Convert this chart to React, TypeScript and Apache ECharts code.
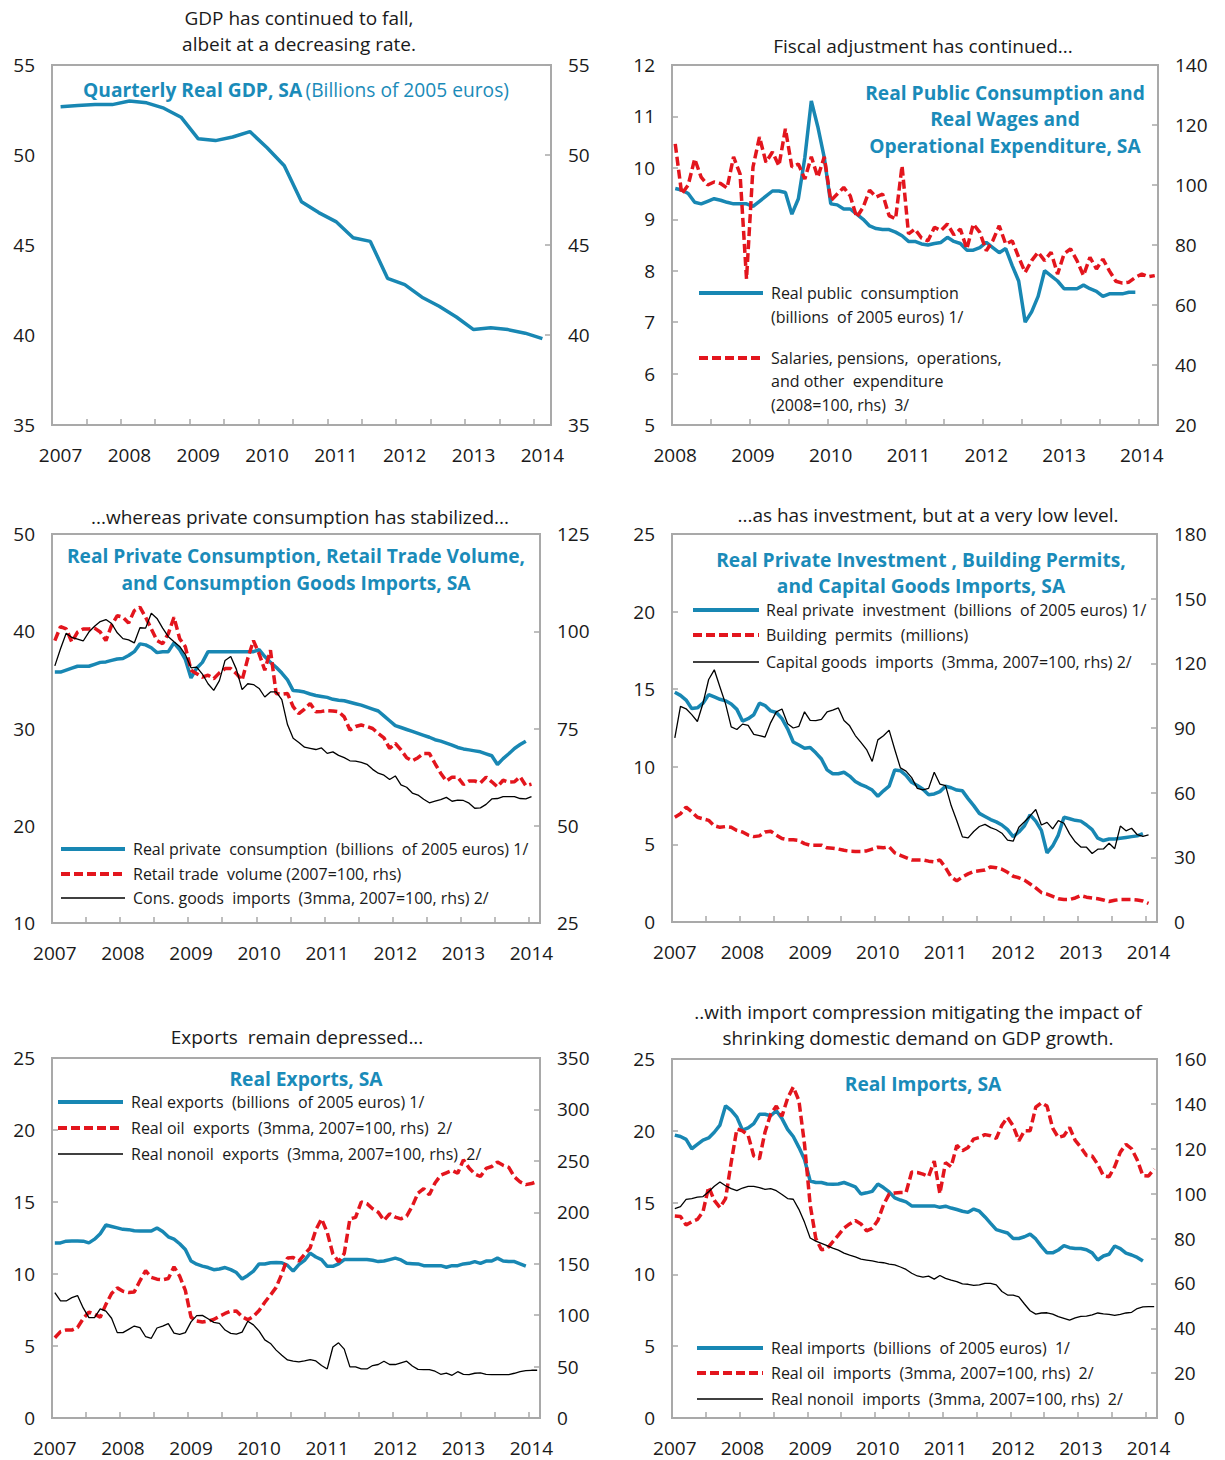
import React, { useEffect, useRef } from "react";
import * as echarts from "echarts";

const FONT = "'Open Sans', 'Noto Sans', sans-serif";
const TEAL = "#1a8bb9";
const BLUE = "#1887b3";
const RED = "#e3151d";
const GRAY = "#a9a9a9";
const TXT = "#1a1a1a";

// ---------- DATA ----------
// Panel 1: quarterly real GDP, 2007Q1 - 2014Q1
const gdpStart = 2007;
const gdp = [52.68, 52.75, 52.8, 52.8, 53.0, 52.9, 52.6, 52.1, 50.9, 50.8, 51.0, 51.3, 50.4, 49.4, 47.4,
  46.8, 46.3, 45.4, 45.2, 43.15, 42.8, 42.1, 41.6, 41.0, 40.3, 40.4, 40.3, 40.1, 39.8];

// Panel 2: monthly from Jan 2008
const fiscalStart = 2008;
const pubCons = [9.6, 9.57, 9.5, 9.33, 9.3, 9.35, 9.4, 9.37, 9.33, 9.3, 9.3, 9.3,
  9.25, 9.35, 9.45, 9.55, 9.55, 9.52, 9.1, 9.4, 10.2, 11.3, 10.8, 10.2,
  9.3, 9.28, 9.2, 9.2, 9.1, 9.0, 8.87, 8.82, 8.8, 8.8, 8.75, 8.68,
  8.57, 8.57, 8.52, 8.5, 8.53, 8.55, 8.65, 8.57, 8.53, 8.4, 8.4, 8.45,
  8.55, 8.45, 8.35, 8.43, 8.1, 7.8, 7.0, 7.2, 7.5, 8.0, 7.9, 7.8,
  7.65, 7.65, 7.65, 7.72, 7.65, 7.6, 7.5, 7.55, 7.55, 7.55, 7.58, 7.58];
const fiscalExp = [113.7, 97, 100, 108.7, 102.6, 100, 101, 100.5, 99, 109.4, 103.7, 68.7,
  106, 116, 107.6, 111, 106.4, 118.7, 106, 107, 102, 109.4, 102.6, 109.4,
  94.8, 97, 99.2, 96.4, 89.2, 92.6, 98.3, 96, 97, 89.8, 88.7, 106.4,
  83.7, 85.3, 82.3, 81.4, 85.9, 84.8, 87, 83.4, 85.3, 78.7, 87, 84.2,
  78.1, 81.4, 86.4, 80.3, 81.4, 75.9, 70.9, 74.8, 77.6, 74.8, 77.6, 70.3,
  77, 78.7, 74.8, 69.8, 75.9, 72, 75.3, 71.4, 67.9, 67.3, 67.6, 69.2,
  70.3, 69.4, 69.8];

// Panel 3: monthly from Jan 2007
const monthlyStart = 2007;
const privCons = [35.8, 35.8, 36.0, 36.2, 36.4, 36.4, 36.4, 36.6, 36.8, 36.85, 37.0, 37.15,
  37.2, 37.5, 37.9, 38.7, 38.6, 38.3, 37.8, 37.9, 37.9, 38.8, 38.1, 37.1,
  35.2, 36.2, 36.8, 37.9, 37.9, 37.9, 37.9, 37.9, 37.9, 37.9, 37.9, 37.9,
  38.1, 37.4, 36.8, 36.3, 35.7, 35.0, 33.9, 33.85, 33.75, 33.55, 33.4, 33.3,
  33.2, 33.0, 32.9, 32.85, 32.7, 32.55, 32.4, 32.2, 32.0, 31.8, 31.3, 30.8,
  30.3, 30.1, 29.9, 29.7, 29.5, 29.3, 29.1, 28.85, 28.7, 28.5, 28.3, 28.05,
  27.9, 27.8, 27.7, 27.6, 27.4, 27.2, 26.3, 26.9, 27.4, 27.95, 28.35, 28.7];
const retailVol = [97.6, 101.2, 100.6, 97.2, 99.8, 100.6, 100.6, 100.8, 99.8, 97.6, 101.5, 104,
  103.6, 102.1, 105.3, 106.2, 103.6, 100.6, 97.6, 96.8, 99.4, 103.6, 98.1, 96,
  90, 89.1, 88.2, 88.7, 87.8, 89.3, 90.4, 90.4, 89.1, 87.4, 93, 97.6,
  94.2, 90, 95.1, 84, 83.8, 84, 80.6, 78.8, 80, 81.4, 79.3, 79.4,
  79.6, 79.5, 79.3, 78, 74.6, 75.5, 75.9, 75.5, 75, 73.7, 72.6, 69.9,
  71.2, 69.5, 67.5, 66.7, 67.5, 68.6, 68.6, 66, 63.5, 61.5, 62.5, 62.5,
  60.6, 61.5, 61.5, 61, 62.5, 61.3, 60, 61.7, 61.2, 61.3, 62.6, 60.3, 60.7];
const consImports = [91.1, 95.5, 99.5, 98.4, 98, 97.5, 99.8, 101.3, 102.5, 103, 102, 99.6,
  98.1, 97.8, 97, 100.9, 100.8, 104.6, 103.3, 100.8, 98.6, 97.3, 96.1, 94,
  90.6, 90.8, 89, 86.5, 84.8, 87.3, 92.5, 93.5, 90.2, 85, 86.5, 86.3,
  85.3, 83.1, 84.4, 84.4, 82.4, 76, 72.5, 71.4, 70.2, 69.9, 69.6, 70,
  68.6, 69, 68.1, 67.5, 66.7, 66.6, 66.3, 65.8, 64.5, 63.5, 63, 61.9,
  62.8, 60.5, 59.9, 58.4, 57.9, 56.8, 55.9, 56.3, 56.7, 57.3, 56.3, 56.6,
  56.5, 55.8, 54.5, 54.6, 55.5, 56.9, 57, 57.5, 57.5, 57.5, 57, 56.9, 57.5];

// Panel 4
const privInv = [14.8, 14.6, 14.3, 13.75, 13.8, 14.1, 14.65, 14.5, 14.35, 14.25, 14.05, 13.7,
  12.95, 13.1, 13.35, 14.1, 13.95, 13.6, 13.5, 13.1, 12.45, 11.6, 11.4, 11.2,
  11.25, 10.9, 10.5, 9.8, 9.55, 9.55, 9.65, 9.4, 9.05, 8.85, 8.7, 8.5,
  8.1, 8.45, 8.75, 9.8, 9.75, 9.45, 9.0, 8.8, 8.55, 8.2, 8.25, 8.4,
  8.75, 8.65, 8.5, 8.45, 7.95, 7.5, 7.0, 6.8, 6.6, 6.45, 6.25, 5.95,
  5.5, 5.8, 6.2, 6.9, 6.5, 5.9, 4.45, 4.9, 5.6, 6.75, 6.65, 6.55,
  6.5, 6.25, 5.95, 5.4, 5.25, 5.35, 5.35, 5.4, 5.45, 5.5, 5.55, 5.7];
const buildPermits = [6.75, 6.97, 7.4, 7.1, 6.75, 6.65, 6.55, 6.2, 6.1, 6.15, 6.1, 5.9,
  5.8, 5.6, 5.5, 5.55, 5.8, 5.85, 5.6, 5.38, 5.3, 5.3, 5.25, 5.05,
  4.95, 4.95, 4.95, 4.78, 4.75, 4.7, 4.62, 4.56, 4.55, 4.55, 4.58, 4.7,
  4.82, 4.78, 4.85, 4.45, 4.3, 4.15, 4.0, 4.0, 4.0, 3.92, 3.87, 4.0,
  3.5, 2.9, 2.65, 2.9, 3.1, 3.25, 3.3, 3.35, 3.55, 3.5, 3.4, 3.2,
  2.95, 2.85, 2.7, 2.45, 2.2, 1.9, 1.8, 1.65, 1.5, 1.45, 1.45, 1.55,
  1.7, 1.6, 1.55, 1.5, 1.42, 1.32, 1.4, 1.45, 1.45, 1.45, 1.42, 1.35, 1.2];
const capImports = [85.4, 100, 98.9, 96.2, 93, 101.5, 112.5, 117, 109, 101.2, 90.5, 89.3,
  91.8, 91.2, 87, 86.5, 85.8, 92.5, 97.5, 98.8, 92, 90, 90.8, 97.5,
  93.5, 93.4, 94, 97.5, 98.3, 99.3, 93.5, 91, 86.5, 83.3, 80, 74.5,
  84.5, 86.4, 89, 80, 71.5, 70, 67, 62, 61.3, 62, 69.5, 64,
  63.3, 54, 47, 39.5, 39, 42, 44.3, 45.3, 43.8, 42.8, 41.2, 38,
  37.5, 44, 46.5, 49.2, 52.2, 45, 46.2, 43.2, 47, 45.8, 40.9, 37.2,
  34.8, 34.7, 31.8, 33.8, 33.9, 36.5, 34, 44.5, 42.3, 43.5, 40.5, 39.7, 40.4];

// Panel 5
const realExports = [12.16, 12.16, 12.28, 12.3, 12.3, 12.28, 12.16, 12.42, 12.8, 13.4, 13.3, 13.2,
  13.1, 13.08, 13.0, 12.98, 12.98, 12.98, 13.2, 12.95, 12.58, 12.42, 12.1, 11.7,
  10.9, 10.68, 10.55, 10.45, 10.3, 10.35, 10.45, 10.3, 10.1, 9.65, 9.9, 10.2,
  10.7, 10.7, 10.78, 10.8, 10.78, 10.6, 10.2, 10.65, 10.95, 11.45, 11.18, 11.0,
  10.53, 10.53, 10.7, 11.0, 11.0, 11.0, 11.0, 11.0, 10.95, 10.86, 10.9, 11.0,
  11.1, 10.98, 10.74, 10.72, 10.7, 10.58, 10.58, 10.58, 10.58, 10.47, 10.58, 10.58,
  10.7, 10.74, 10.86, 10.74, 10.9, 10.9, 11.1, 10.9, 10.86, 10.86, 10.7, 10.55];
const oilExports = [78, 84, 85.5, 85.5, 88, 96.5, 103, 101, 98, 110.5, 121, 126.5,
  123.3, 122, 122.6, 133.4, 143.2, 136.8, 135, 134.4, 135.6, 147, 138, 124,
  98, 94.3, 93.3, 94.2, 95.8, 99, 101.6, 103.8, 104, 98.5, 95.5, 98.8,
  104.5, 112.5, 119.5, 127, 140, 155.5, 156, 152.5, 159, 165.5, 183, 193.6,
  180.5, 159.5, 152, 160, 193.6, 195, 210, 208.4, 203.4, 200, 192, 198.5,
  195.3, 193.6, 196.3, 206, 218.7, 223, 217, 228.5, 236, 238.4, 240.6, 238,
  251, 243, 237.3, 234.8, 242.6, 244.5, 248.8, 245.7, 243.6, 234.4, 229.5, 226.9, 227.9, 230];
const nonoilExports = [122, 113.8, 113.8, 117, 119, 107, 97.6, 97.6, 106, 104, 97, 83,
  83, 86.2, 89.4, 87.8, 79, 77.5, 87.5, 89.4, 91.8, 82.5, 81.3, 83,
  93.5, 99.5, 99.8, 96.5, 93, 92, 85.5, 82.3, 81.5, 83.5, 94, 90.5,
  84.5, 76, 72.5, 66, 61, 56.5, 55.2, 54.5, 55.5, 56.8, 55.5, 51,
  47.7, 69, 73.1, 67, 49.7, 49.7, 47.7, 47.7, 51, 52, 55.2, 52,
  52, 53.6, 55.2, 50.5, 47.3, 47.1, 47.1, 45.5, 42.5, 43.6, 41.5, 45,
  42.5, 42.2, 43.5, 43.8, 42.5, 42.2, 42.2, 42.2, 42.2, 43.5, 45, 46, 46.4, 46.4];

// Panel 6
const realImports = [19.7, 19.6, 19.4, 18.75, 19.05, 19.35, 19.5, 19.9, 20.4, 21.74, 21.42, 20.95,
  20.05, 20.2, 20.5, 21.15, 21.15, 21.05, 21.4, 20.85, 20.1, 19.6, 18.85, 18.0,
  16.5, 16.4, 16.4, 16.3, 16.28, 16.3, 16.4, 16.25, 16.1, 15.6, 15.68, 15.78,
  16.3, 16.05, 15.75, 15.33, 15.18, 15.05, 14.77, 14.77, 14.77, 14.77, 14.77, 14.67,
  14.75, 14.62, 14.52, 14.4, 14.32, 14.55, 14.4, 14.0, 13.55, 13.12, 13.0, 12.88,
  12.5, 12.5, 12.62, 12.8, 12.47, 11.95, 11.5, 11.5, 11.7, 12.0, 11.86, 11.8,
  11.8, 11.72, 11.5, 11.0, 11.28, 11.4, 11.98, 11.8, 11.48, 11.35, 11.18, 10.93];
const oilImports = [90, 89.8, 86, 87.5, 88.5, 92, 103, 97, 93.8, 97.8, 114, 128.8,
  128, 126, 116.8, 115.5, 127.5, 135.4, 139, 134.5, 142.5, 147.5, 141.5, 122,
  95, 80, 75, 75.5, 78.5, 81.5, 84.6, 86.5, 88, 86.5, 83.4, 84.5,
  88, 95, 99.8, 100.3, 100.5, 100.5, 109.6, 109.4, 108.7, 107.6, 114.5, 100,
  113.8, 112, 121.5, 119.1, 120.6, 124.3, 125, 126.3, 125.8, 124.6, 130.5, 134,
  130.2, 123.5, 128, 128, 138.5, 140.5, 139, 129.2, 125, 125.8, 129.5, 123.7,
  120.6, 117, 116.8, 113, 108, 107.5, 112, 118.5, 122, 120, 115, 108, 107.9, 111];
const nonoilImports = [93.3, 94.2, 97.4, 97.8, 98.4, 98.7, 100.8, 103.3, 105.2, 103.5, 102.2, 101.3,
  102.5, 103.2, 103.2, 102.7, 101.9, 102.2, 101.3, 99.6, 97.8, 97.5, 93, 87.2,
  80.2, 78.8, 77.8, 76.8, 75.7, 74.8, 73.5, 72.6, 71.8, 70.8, 70.4, 70,
  69.5, 69.2, 68.6, 68.2, 67.3, 66.2, 64.5, 63.3, 62.8, 63.2, 61.9, 63.5,
  62.2, 61.4, 60.8, 59.8, 59.6, 59.1, 59.3, 60, 60, 59.3, 56.4, 54.8,
  54.8, 54, 50.8, 47.8, 46.3, 46.8, 46.9, 46.3, 45.2, 44.4, 43.6, 44.6,
  45.3, 45.4, 46, 46.8, 46.4, 46.2, 45.7, 46.2, 46.8, 47.1, 48.8, 49.5, 49.6, 49.6];

const yearsA = [2007, 2008, 2009, 2010, 2011, 2012, 2013, 2014];
const yearsB = [2008, 2009, 2010, 2011, 2012, 2013, 2014];

// ---------- helpers ----------
const series = (start: number, step: number, vals: number[]) => vals.map((v, i) => [start + i * step, v]);
const monthTicks = (from: number) => {
  const t: number[] = [];
  for (let y = from; y <= 2013; y++) { t.push(y + 5.5 / 12, y + 11.5 / 12); }
  return t;
};
const quarterTicks = () => {
  const t: number[] = [];
  for (let k = 0; k < 14; k++) t.push(2007 + 1.5 / 4 + k * 0.5);
  return t;
};

type S = { data: number[][]; r: boolean; kind: "blue" | "red" | "black" };
type P = {
  grid: { left: number; top: number; width: number; height: number };
  xMin: number; xMax: number; years: number[]; ticks: number[];
  yL: [number, number, number]; yR: [number, number, number]; leftTicks: boolean;
  lines: S[];
};

const panels: P[] = [
  {
    grid: { left: 52, top: 65, width: 499, height: 360 }, xMin: 2006.875, xMax: 2014.125,
    years: yearsA, ticks: quarterTicks(), yL: [35, 55, 5], yR: [35, 55, 5], leftTicks: false,
    lines: [{ data: series(gdpStart, 0.25, gdp), r: false, kind: "blue" }],
  },
  {
    grid: { left: 672, top: 65, width: 486, height: 360 }, xMin: 2008 - 1 / 24, xMax: 2014 + 2 / 12 + 1 / 24,
    years: yearsB, ticks: monthTicks(2008), yL: [5, 12, 1], yR: [20, 140, 20], leftTicks: true,
    lines: [
      { data: series(fiscalStart, 1 / 12, pubCons), r: false, kind: "blue" },
      { data: series(fiscalStart, 1 / 12, fiscalExp), r: true, kind: "red" },
    ],
  },
  {
    grid: { left: 52, top: 534, width: 488, height: 389 }, xMin: 2007 - 1 / 24, xMax: 2014.125,
    years: yearsA, ticks: monthTicks(2007), yL: [10, 50, 10], yR: [25, 125, 25], leftTicks: false,
    lines: [
      { data: series(monthlyStart, 1 / 12, privCons), r: false, kind: "blue" },
      { data: series(monthlyStart, 1 / 12, retailVol), r: true, kind: "red" },
      { data: series(monthlyStart, 1 / 12, consImports), r: true, kind: "black" },
    ],
  },
  {
    grid: { left: 672, top: 534, width: 485, height: 388 }, xMin: 2007 - 1 / 24, xMax: 2014.125,
    years: yearsA, ticks: monthTicks(2007), yL: [0, 25, 5], yR: [0, 180, 30], leftTicks: true,
    lines: [
      { data: series(monthlyStart, 1 / 12, privInv), r: false, kind: "blue" },
      { data: series(monthlyStart, 1 / 12, buildPermits), r: false, kind: "red" },
      { data: series(monthlyStart, 1 / 12, capImports), r: true, kind: "black" },
    ],
  },
  {
    grid: { left: 52, top: 1058, width: 488, height: 360 }, xMin: 2007 - 1 / 24, xMax: 2014.125,
    years: yearsA, ticks: monthTicks(2007), yL: [0, 25, 5], yR: [0, 350, 50], leftTicks: true,
    lines: [
      { data: series(monthlyStart, 1 / 12, realExports), r: false, kind: "blue" },
      { data: series(monthlyStart, 1 / 12, oilExports), r: true, kind: "red" },
      { data: series(monthlyStart, 1 / 12, nonoilExports), r: true, kind: "black" },
    ],
  },
  {
    grid: { left: 672, top: 1059, width: 485, height: 359 }, xMin: 2007 - 1 / 24, xMax: 2014.125,
    years: yearsA, ticks: monthTicks(2007), yL: [0, 25, 5], yR: [0, 160, 20], leftTicks: true,
    lines: [
      { data: series(monthlyStart, 1 / 12, realImports), r: false, kind: "blue" },
      { data: series(monthlyStart, 1 / 12, oilImports), r: true, kind: "red" },
      { data: series(monthlyStart, 1 / 12, nonoilImports), r: true, kind: "black" },
    ],
  },
];

const lineStyleOf = (k: string) =>
  k === "blue" ? { color: BLUE, width: 3.5 } :
  k === "red" ? { color: RED, width: 3.5, type: [9, 4] as any } :
  { color: "#000", width: 1.3 };

// ---------- text graphics ----------
const TITLE = 19;
const LEGEND = 16;
const BOLD = 19.2;
const txt = (text: string, x: number, y: number, size: number, opts: any = {}) => ({
  type: "text",
  style: {
    text, x, y, fontSize: size, fontFamily: FONT, fill: opts.fill || TXT,
    fontWeight: opts.bold ? "bold" : "normal", align: opts.align || "center", verticalAlign: "middle",
  },
  z: 100,
});
const leg = (x1: number, x2: number, y: number, kind: string) => ({
  type: "line",
  shape: { x1, y1: y, x2, y2: y },
  style: kind === "blue" ? { stroke: BLUE, lineWidth: 4 } :
    kind === "red" ? { stroke: RED, lineWidth: 4, lineDash: [9, 4] } : { stroke: "#000", lineWidth: 1.5 },
  z: 100,
});
const lt = (text: string, x: number, y: number) => txt(text, x, y, LEGEND, { align: "left" });
const bt = (text: string, x: number, y: number) => txt(text, x, y, BOLD, { bold: true, fill: TEAL });

const graphics: any[] = [
  // Panel 1
  txt("GDP has continued to fall,", 299, 18, TITLE),
  txt("albeit at a decreasing rate.", 299, 44, TITLE),
  {
    type: "text", z: 100,
    style: {
      text: "{b|Quarterly Real GDP, SA} {r|(Billions of 2005 euros)}", x: 296, y: 89, align: "center", verticalAlign: "middle",
      rich: {
        b: { fontSize: BOLD, fontWeight: "bold", fontFamily: FONT, fill: TEAL },
        r: { fontSize: BOLD, fontWeight: "normal", fontFamily: FONT, fill: TEAL },
      },
    },
  },
  // Panel 2
  txt("Fiscal adjustment has continued...", 923, 46, TITLE),
  bt("Real Public Consumption and", 1005, 92),
  bt("Real Wages and", 1005, 118),
  bt("Operational Expenditure, SA", 1005, 145),
  leg(699, 763, 293, "blue"), lt("Real public  consumption", 771, 293), lt("(billions  of 2005 euros) 1/", 771, 317),
  leg(699, 763, 358, "red"), lt("Salaries, pensions,  operations,", 771, 358), lt("and other  expenditure", 771, 381),
  lt("(2008=100, rhs)  3/", 771, 405),
  // Panel 3
  txt("...whereas private consumption has stabilized...", 300, 517, TITLE),
  bt("Real Private Consumption, Retail Trade Volume,", 296, 555),
  bt("and Consumption Goods Imports, SA", 296, 582),
  leg(61, 125, 849, "blue"), lt("Real private  consumption  (billions  of 2005 euros) 1/", 133, 849),
  leg(61, 125, 874, "red"), lt("Retail trade  volume (2007=100, rhs)", 133, 874),
  leg(61, 125, 898, "black"), lt("Cons. goods  imports  (3mma, 2007=100, rhs) 2/", 133, 898),
  // Panel 4
  txt("...as has investment, but at a very low level.", 928, 515, TITLE),
  bt("Real Private Investment , Building Permits,", 921, 559),
  bt("and Capital Goods Imports, SA", 921, 585),
  leg(693, 759, 610, "blue"), lt("Real private  investment  (billions  of 2005 euros) 1/", 766, 610),
  leg(693, 759, 635, "red"), lt("Building  permits  (millions)", 766, 635),
  leg(693, 759, 662, "black"), lt("Capital goods  imports  (3mma, 2007=100, rhs) 2/", 766, 662),
  // Panel 5
  txt("Exports  remain depressed...", 297, 1037, TITLE),
  bt("Real Exports, SA", 306, 1078),
  leg(58, 123, 1102, "blue"), lt("Real exports  (billions  of 2005 euros) 1/", 131, 1102),
  leg(58, 123, 1128, "red"), lt("Real oil  exports  (3mma, 2007=100, rhs)  2/", 131, 1128),
  leg(58, 123, 1154, "black"), lt("Real nonoil  exports  (3mma, 2007=100, rhs)  2/", 131, 1154),
  // Panel 6
  txt("..with import compression mitigating the impact of", 918, 1012, TITLE),
  txt("shrinking domestic demand on GDP growth.", 918, 1038, TITLE),
  bt("Real Imports, SA", 923, 1083),
  leg(697, 763, 1348, "blue"), lt("Real imports  (billions  of 2005 euros)  1/", 771, 1348),
  leg(697, 763, 1373, "red"), lt("Real oil  imports  (3mma, 2007=100, rhs)  2/", 771, 1373),
  leg(697, 763, 1399, "black"), lt("Real nonoil  imports  (3mma, 2007=100, rhs)  2/", 771, 1399),
];

function buildOption() {
  const grid: any[] = [];
  const xAxis: any[] = [];
  const yAxis: any[] = [];
  const ser: any[] = [];
  panels.forEach((p, i) => {
    grid.push({ ...p.grid, show: true, borderColor: GRAY, borderWidth: 2, backgroundColor: "transparent", containLabel: false });
    xAxis.push({
      type: "value", gridIndex: i, min: p.xMin, max: p.xMax,
      axisLine: { show: false }, splitLine: { show: false },
      axisTick: { show: true, inside: true, length: 6, lineStyle: { color: GRAY, width: 1.5 }, customValues: p.ticks },
      axisLabel: {
        customValues: p.years, formatter: (v: number) => String(Math.round(v)),
        color: TXT, fontFamily: FONT, fontSize: 19, margin: 20,
      },
    });
    const yBase = (side: "left" | "right", cfg: [number, number, number], ticks: boolean) => ({
      type: "value", gridIndex: i, position: side, min: cfg[0], max: cfg[1], interval: cfg[2],
      axisLine: { show: false }, splitLine: { show: false },
      axisTick: { show: ticks, inside: true, length: 6, lineStyle: { color: GRAY, width: 1.5 } },
      axisLabel: { color: TXT, fontFamily: FONT, fontSize: 19, margin: 17 },
    });
    yAxis.push(yBase("left", p.yL, p.leftTicks));
    yAxis.push(yBase("right", p.yR, true));
    p.lines.forEach((s) => {
      ser.push({
        type: "line", xAxisIndex: i, yAxisIndex: 2 * i + (s.r ? 1 : 0), data: s.data,
        showSymbol: false, symbol: "none", lineStyle: lineStyleOf(s.kind), silent: true, clip: true,
        z: s.kind === "black" ? 4 : s.kind === "red" ? 3 : 2,
      });
    });
  });
  return {
    animation: false,
    backgroundColor: "#ffffff",
    grid, xAxis, yAxis, series: ser, graphic: graphics,
  };
}

export default function App() {
  const ref = useRef<HTMLDivElement>(null);
  useEffect(() => {
    if (!ref.current) return;
    const chart = echarts.init(ref.current, undefined, { renderer: "svg" });
    chart.setOption(buildOption() as any);
    return () => chart.dispose();
  }, []);
  return (
    <div
      ref={ref}
      style={{ position: "absolute", left: 0, top: 0, width: 1225, height: 1460, background: "#fff" }}
    />
  );
}
